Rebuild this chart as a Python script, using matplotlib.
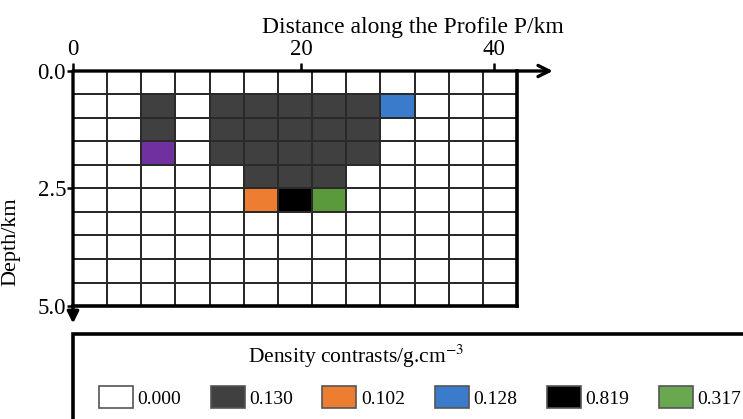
import numpy as np
import matplotlib
matplotlib.use("Agg")
from matplotlib import pyplot as plt
from matplotlib.colors import ListedColormap, BoundaryNorm
from matplotlib.patches import Patch, Rectangle

plt.rcParams['font.family'] = ['Liberation Serif', 'DejaVu Serif']
plt.rcParams['mathtext.fontset'] = 'stix'

# density contrast classes (legend order), last one = unlabelled purple cell
density_labels = ["0.000", "0.130", "0.102", "0.128", "0.819", "0.317"]
class_colors = ["#ffffff", "#404040", "#ed7d31", "#3a7ccb", "#000000", "#5b9a3c", "#7030a0"]
legend_colors = ["#ffffff", "#404040", "#ed7d31", "#3a7ccb", "#000000", "#6aa84f"]

# model cells: one string per 0.5 km depth row, one char per column (class index)
model_rows = [
    "0000000000000",
    "0010111113000",
    "0010111110000",
    "0060111110000",
    "0000011100000",
    "0000024500000",
    "0000000000000",
    "0000000000000",
    "0000000000000",
    "0000000000000",
]
depth_step = 0.5

xtick_labels = ["0", "20", "40"]
ytick_vals = [0.0, 2.5, 5.0]

grid = np.array([[int(c) for c in r] for r in model_rows])
nrow, ncol = grid.shape
x_edges = np.arange(ncol + 1)
y_edges = np.arange(nrow + 1) * depth_step

fig = plt.figure(figsize=(7.43, 4.19), dpi=100)
ax = fig.add_axes([73/743, 1-306/419, 444/743, 235/419])

cmap = ListedColormap(class_colors)
norm = BoundaryNorm(np.arange(len(class_colors) + 1) - 0.5, cmap.N)
ax.pcolormesh(x_edges, y_edges, grid, cmap=cmap, norm=norm,
              edgecolors='#2a2a2a', linewidth=1.4)
ax.set_xlim(0, ncol)
ax.set_ylim(nrow * depth_step, 0)

for s in ['top', 'left']:
    ax.spines[s].set_visible(False)
for s in ['right', 'bottom']:
    ax.spines[s].set_linewidth(2.6)

# axis lines with arrows
ax.annotate('', xy=(ncol + 1.05, 0), xytext=(0, 0), annotation_clip=False,
            arrowprops=dict(arrowstyle='->', lw=2.4, mutation_scale=20, color='black',
                            shrinkA=0, shrinkB=0))
ax.annotate('', xy=(0, nrow * depth_step + 0.37), xytext=(0, 0), annotation_clip=False,
            arrowprops=dict(arrowstyle='-|>', lw=2.4, mutation_scale=17, color='black',
                            shrinkA=0, shrinkB=0))

ax.xaxis.tick_top()
ax.set_xticks([0, 6.68, 12.33])
ax.set_xticklabels(xtick_labels)
ax.tick_params(axis='x', direction='out', length=6, width=1.8, pad=2, labelsize=16.5)
ax.set_yticks(ytick_vals)
ax.set_yticklabels(["%.1f" % v for v in ytick_vals])
ax.tick_params(axis='y', direction='out', length=4, width=1.8, pad=1, labelsize=16.5)

ax.xaxis.set_label_position('top')
ax.set_xlabel("Distance along the Profile P/km", fontsize=17)
ax.xaxis.set_label_coords((413-73)/444, 1 + (71-33)/235)
ax.set_ylabel("Depth/km", fontsize=16)
ax.yaxis.set_label_coords(-(73-20)/444, 1 - (242-71)/235)

# legend box
fig.add_artist(Rectangle((73/743, -0.1), 1.0, 0.1 + (419-334)/419,
                         transform=fig.transFigure, fill=False, lw=2.6, ec='black'))
fig.text(356/743, 1-356/419, "Density contrasts/g.cm$^{-3}$", ha='center', va='center',
         fontsize=15.5)
handles = [Patch(facecolor=c, edgecolor='#555555', lw=1.2) for c in legend_colors]
fig.legend(handles, density_labels, ncol=6, loc='center', bbox_to_anchor=(420/743, 1-397/419),
           frameon=False, fontsize=14, handlelength=1.75, handleheight=1.3,
           handletextpad=0.25, columnspacing=1.5, borderpad=0)

fig.savefig("out.png", dpi=100)
